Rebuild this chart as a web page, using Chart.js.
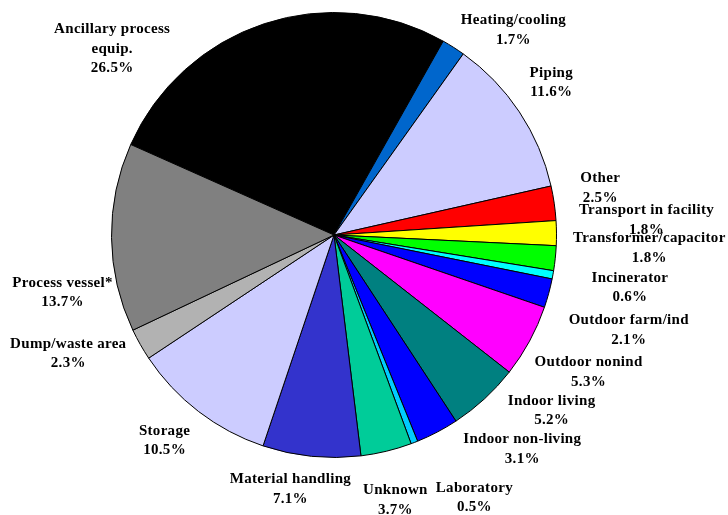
<!DOCTYPE html>
<html>
<head>
<meta charset="utf-8">
<script src="https://cdn.jsdelivr.net/npm/chart.js@4/dist/chart.umd.min.js"></script>
<style>
html,body{margin:0;padding:0;background:#fff;}
#wrap{width:728px;height:515px;}
</style>
</head>
<body>
<div id="wrap"><canvas id="c" width="728" height="515"></canvas></div>
<script>
const categories = [
  "Ancillary process equip.", "Heating/cooling", "Piping", "Other",
  "Transport in facility", "Transformer/capacitor", "Incinerator",
  "Outdoor farm/ind", "Outdoor nonind", "Indoor living", "Indoor non-living",
  "Laboratory", "Unknown", "Material handling", "Storage",
  "Dump/waste area", "Process vessel*"
];
const shares = [26.5, 1.7, 11.6, 2.5, 1.8, 1.8, 0.6, 2.1, 5.3, 5.2, 3.1, 0.5, 3.7, 7.1, 10.5, 2.3, 13.7];

// styling / layout (kept separate from data)
const sliceColors = [
  "#000000", "#0066CC", "#CCCCFF", "#FF0000", "#FFFF00", "#00FF00", "#00FFFF",
  "#0000FF", "#FF00FF", "#008080", "#0000FF", "#00CCFF", "#00CC99",
  "#3333CC", "#CCCCFF", "#B2B2B2", "#808080"
];
const nameLines = {
  "Ancillary process equip.": ["Ancillary process", "equip."]
};
// nudge of label block centre relative to slice rim point at mid angle
const labelNudge = [
  [-152, 25], [60, -17], [32, -29], [46, -15], [90, -13], [94, -10], [77, 13],
  [80, 37], [59, 31], [67, 12], [85, 17], [60, 55], [9, 49], [-21, 33],
  [-34, 29], [-72, 9], [-49, 55]
];

const labelPlugin = {
  id: 'sliceLabels',
  afterDatasetsDraw(chart) {
    const ctx = chart.ctx;
    const meta = chart.getDatasetMeta(0);
    ctx.save();
    ctx.font = "bold 15px 'Liberation Serif', 'Times New Roman', serif";
    try { ctx.letterSpacing = "0.3px"; } catch (e) {}
    ctx.fillStyle = "#000";
    ctx.textAlign = "center";
    ctx.textBaseline = "middle";
    const lh = 19.5;
    meta.data.forEach((arc, i) => {
      const p = arc.getProps(['x', 'y', 'startAngle', 'endAngle', 'outerRadius'], true);
      const mid = (p.startAngle + p.endAngle) / 2;
      const rx = p.x + Math.cos(mid) * p.outerRadius;
      const ry = p.y + Math.sin(mid) * p.outerRadius;
      const cx = rx + labelNudge[i][0];
      const cy = ry + labelNudge[i][1];
      const lines = (nameLines[categories[i]] || [categories[i]]).concat([shares[i].toFixed(1) + "%"]);
      const top = cy - (lines.length - 1) * lh / 2;
      lines.forEach((t, k) => ctx.fillText(t, cx, top + k * lh));
    });
    ctx.restore();
  }
};

new Chart(document.getElementById('c'), {
  type: 'pie',
  data: {
    labels: categories,
    datasets: [{
      data: shares,
      backgroundColor: sliceColors,
      borderColor: "#000000",
      borderWidth: 1,
      hoverOffset: 0
    }]
  },
  options: {
    responsive: false,
    animation: false,
    rotation: -66,
    layout: { padding: { left: 111, right: 171, top: 12, bottom: 57 } },
    plugins: {
      legend: { display: false },
      tooltip: { enabled: false }
    }
  },
  plugins: [labelPlugin]
});
</script>
</body>
</html>
